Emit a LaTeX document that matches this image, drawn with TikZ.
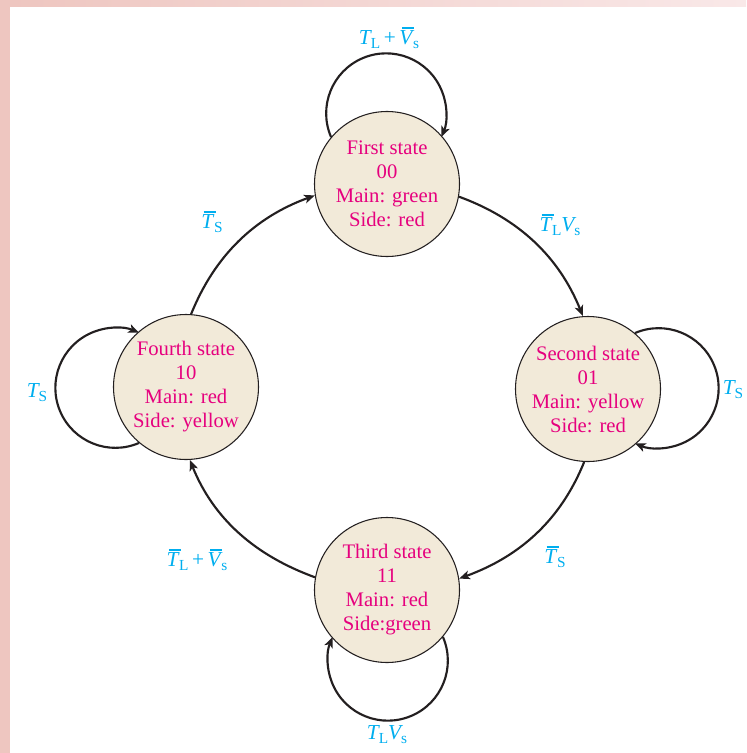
\documentclass[tikz,border=0pt]{standalone}
\usepackage{fontspec}
\setmainfont{Liberation Serif}
\usetikzlibrary{arrows.meta}
\definecolor{statepink}{RGB}{230,0,126}
\definecolor{labelblue}{RGB}{0,174,239}
\definecolor{statefill}{RGB}{242,234,217}
\definecolor{bandpink}{RGB}{238,198,192}
\definecolor{bandlight}{RGB}{249,232,232}
\definecolor{linecol}{RGB}{35,31,32}
\newcommand\vT{{\itshape T}}
\newcommand\vV{{\itshape V}}
\newcommand\barred[2]{\leavevmode\rlap{\kern#2\vrule width 9pt height 13.2pt depth -12pt}{\itshape #1\kern0.5pt}}
\newcommand\bT{\barred{T}{1.6pt}}
\newcommand\bV{\barred{V}{2pt}}
\newcommand\subx[1]{\raisebox{-0.4ex}{\fontsize{11.5}{12}\selectfont #1}}
\begin{document}
\begin{tikzpicture}[x=0.75pt,y=0.75pt,
  statenode/.style={circle,draw=linecol,line width=0.8pt,fill=statefill,
    minimum size=108.75pt,inner sep=0pt,text=statepink,align=center,
    font=\fontsize{15.5}{18}\selectfont},
  trans/.style={draw=linecol,line width=1.6pt,
    -{Stealth[length=8pt,width=6.5pt,inset=2pt]}},
  lbl/.style={text=labelblue,font=\fontsize{16}{18}\selectfont,inner sep=0pt}]
\useasboundingbox (0,-753) rectangle (746,0);
% border bands
\fill[bandpink] (0,0) rectangle (10,-753);
\shade[left color=bandpink,right color=bandlight] (10,0) rectangle (746,-6);

% states
\node[statenode] (first)  at (387,-184) {First state\\00\\Main: green\\Side: red};
\node[statenode] (second) at (588,-389) {Second state\\01\\Main: yellow\\Side: red};
\node[statenode] (third)  at (387,-590) {Third state\\11\\Main: red\\Side:green};
\node[statenode] (fourth) at (186,-387) {Fourth state\\10\\Main: red\\Side: yellow};

% transitions around the ring
\draw[trans] (first.-10) to[out=-20,in=112,looseness=0.95] (second.94);
\draw[trans] (second.-93) to[out=-112,in=20,looseness=0.95] (third.9);
\draw[trans] (third.170) to[out=160,in=-68,looseness=0.95] (fourth.-87);
\draw[trans] (fourth.86) to[out=68,in=-160,looseness=0.95] (first.-171);

% self loops
\draw[trans] (first.140) arc[start angle=203.27,end angle=-23.27,radius=60];
\draw[trans] (second.50) arc[start angle=113.27,end angle=-113.27,radius=60];
\draw[trans] (third.-40) arc[start angle=23.27,end angle=-203.27,radius=60];
\draw[trans] (fourth.-130) arc[start angle=-66.73,end angle=-293.27,radius=60];

% labels
\node[lbl] (l1) at (389,-38) {\vT\subx{L}\,+\,\bV\subx{s}};
\node[lbl] (l2) at (560,-225) {\bT\subx{L}\vV\subx{s}};
\node[lbl] (l3) at (733,-390) {\vT\subx{S}};
\node[lbl] (l4) at (555,-557) {\bT\subx{S}};
\node[lbl] (l5) at (387,-735) {\vT\subx{L}\vV\subx{s}};
\node[lbl] (l6) at (197,-560) {\bT\subx{L}\,+\,\bV\subx{s}};
\node[lbl] (l7) at (37,-393) {\vT\subx{S}};
\node[lbl] (l8) at (212,-222) {\bT\subx{S}};
\end{tikzpicture}
\end{document}
